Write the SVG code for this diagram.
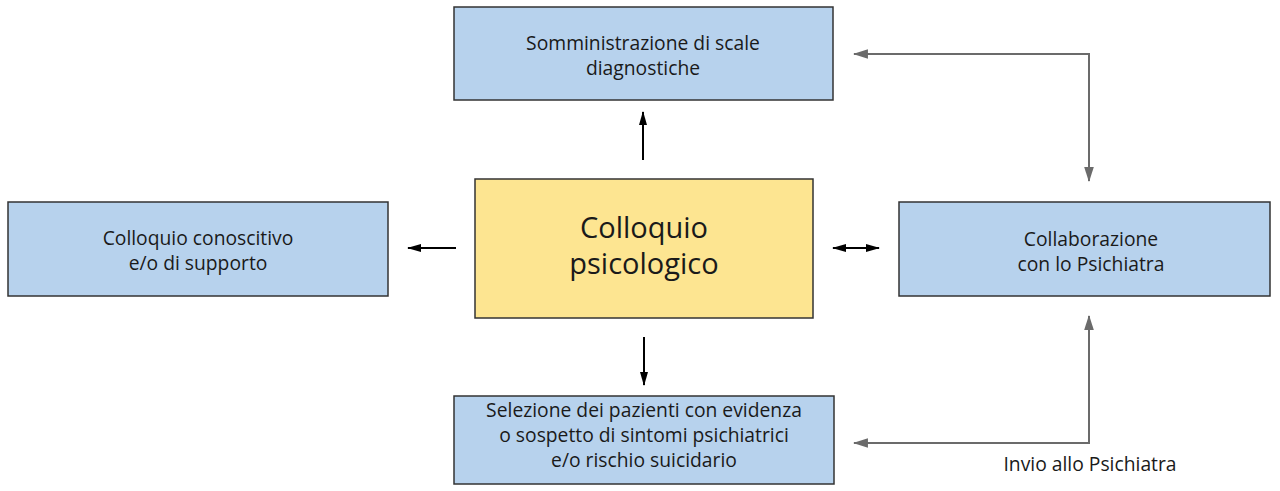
<svg xmlns="http://www.w3.org/2000/svg" width="1280" height="491" viewBox="0 0 1280 491">
<style>
.box{fill:#b7d2ed;stroke:#333;stroke-width:1.5}
.main{fill:#fde591;stroke:#333;stroke-width:1.5}
text{font-family:"Open Sans","Liberation Sans",sans-serif;fill:#1a1a1a;text-anchor:middle}
.t{font-size:19.3px}
.big{font-size:29px}
.blk{stroke:#000;stroke-width:2;fill:none}
.gry{stroke:#6b6b6b;stroke-width:2;fill:none}
</style>
<defs>
<marker id="ab" viewBox="0 0 14 10" refX="13" refY="5" markerWidth="7" markerHeight="5" orient="auto-start-reverse" markerUnits="strokeWidth"><path d="M0,1L14,5L0,9z" fill="#000"/></marker>
<marker id="ag" viewBox="0 0 14 10" refX="13" refY="5" markerWidth="7.5" markerHeight="5.5" orient="auto-start-reverse" markerUnits="strokeWidth"><path d="M0,0.5L14,5L0,9.5z" fill="#6b6b6b"/></marker>
</defs>
<g id="connectors">
<line class="blk" x1="643" y1="160" x2="643" y2="112" marker-end="url(#ab)"/>
<line class="blk" x1="644" y1="337" x2="644" y2="385" marker-end="url(#ab)"/>
<line class="blk" x1="456" y1="248" x2="408" y2="248" marker-end="url(#ab)"/>
<line class="blk" x1="833" y1="248" x2="879" y2="248" marker-start="url(#ab)" marker-end="url(#ab)"/>
<polyline class="gry" points="854,54 1089,54 1089,181" marker-start="url(#ag)" marker-end="url(#ag)"/>
<polyline class="gry" points="1089,316 1089,443 854,443" marker-start="url(#ag)" marker-end="url(#ag)"/>
<text class="t" x="1090" y="471">Invio allo Psichiatra</text>
</g>
<g id="node-scale">
<rect class="box" x="454" y="7" width="379" height="93"/>
<text class="t" x="643" y="50">Somministrazione di scale</text>
<text class="t" x="643" y="75">diagnostiche</text>
</g>
<g id="node-colloquio">
<rect class="main" x="475" y="179" width="338" height="139"/>
<text class="big" x="644" y="238">Colloquio</text>
<text class="big" x="644" y="274">psicologico</text>
</g>
<g id="node-conoscitivo">
<rect class="box" x="8" y="202" width="380" height="94"/>
<text class="t" x="198" y="245">Colloquio conoscitivo</text>
<text class="t" x="198" y="270">e/o di supporto</text>
</g>
<g id="node-psichiatra">
<rect class="box" x="899" y="202" width="371" height="94"/>
<text class="t" x="1091" y="246">Collaborazione</text>
<text class="t" x="1091" y="271">con lo Psichiatra</text>
</g>
<g id="node-selezione">
<rect class="box" x="454" y="396" width="380" height="88"/>
<text class="t" x="644" y="417">Selezione dei pazienti con evidenza</text>
<text class="t" x="644" y="442">o sospetto di sintomi psichiatrici</text>
<text class="t" x="644" y="467">e/o rischio suicidario</text>
</g>
</svg>
